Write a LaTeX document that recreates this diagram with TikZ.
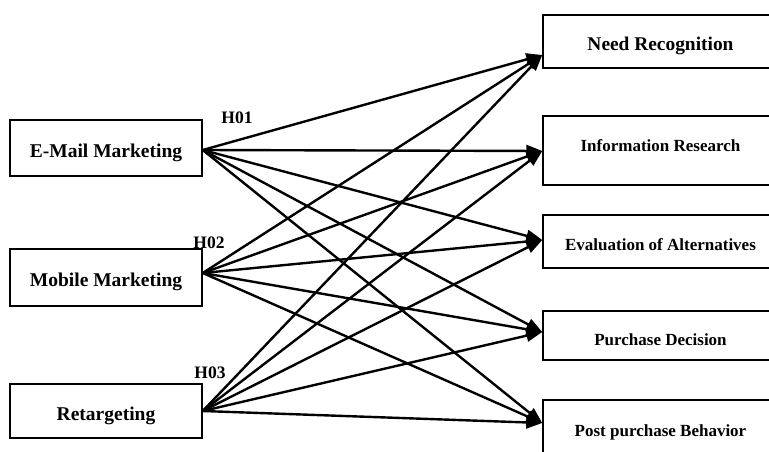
\documentclass[tikz,border=0pt]{standalone}
\usepackage{fontspec}
\setmainfont{Liberation Serif}
\usetikzlibrary{arrows.meta}
\begin{document}
\begin{tikzpicture}[x=1pt,y=-1pt,
  src/.style={draw,line width=1.5pt,minimum width=192pt,minimum height=56pt,inner sep=0pt,
    text height=23pt,text depth=4.5pt,font=\fontsize{19.5}{23}\selectfont\bfseries},
  dst/.style={draw,line width=1.5pt,minimum width=235pt,inner sep=0pt,text height=12pt,text depth=3pt,
    font=\fontsize{17}{20}\selectfont\bfseries},
  conn/.style={line width=2.4pt,-{Triangle[length=16pt,width=12pt]}},
  hyp/.style={font=\fontsize{17.5}{20}\selectfont\bfseries,inner sep=0pt}]
\useasboundingbox (0,0) rectangle (769,452);
\begin{scope}
\clip (0,0) rectangle (769,452);
% sources
\node[src] (em) at (106,148) {E-Mail Marketing};
\node[src,minimum height=57pt] (mm) at (106,277.5) {Mobile Marketing};
\node[src,minimum height=54pt,text height=24pt] (rt) at (106,411) {Retargeting};
% targets
\node[dst,minimum height=53pt,text height=21pt,font=\fontsize{19.4}{22}\selectfont\bfseries] (nr) at (660.5,41.5) {Need Recognition};
\node[dst,minimum height=69pt,text depth=10pt] (ir) at (660.5,150.5) {Information Research};
\node[dst,minimum height=53pt,text height=21pt] (ev) at (660.5,241.5) {Evaluation of Alternatives};
\node[dst,minimum height=49pt,text height=23pt] (pd) at (660.5,335.5) {Purchase Decision};
\node[dst,minimum height=60pt,text height=16pt] (pp) at (660.5,430) {Post purchase Behavior};
\end{scope}
% hypothesis labels
\node[hyp] (h1) at (237,118) {H01};
\node[hyp] (h2) at (209,243) {H02};
\node[hyp] (h3) at (210,373) {H03};
% connectors
\foreach \s/\sh in {em/-2pt,mm/4.5pt,rt/0pt}{
  \draw[conn] ([yshift=\sh]\s.east) -- ([yshift=-13.5pt]nr.west);
  \draw[conn] ([yshift=\sh]\s.east) -- ([yshift=-0.5pt]ir.west);
  \draw[conn] ([yshift=\sh]\s.east) -- ([yshift=1.5pt]ev.west);
  \draw[conn] ([yshift=\sh]\s.east) -- ([yshift=3.5pt]pd.west);
  \draw[conn] ([yshift=\sh]\s.east) -- ([yshift=7pt]pp.west);
}
\end{tikzpicture}
\end{document}
